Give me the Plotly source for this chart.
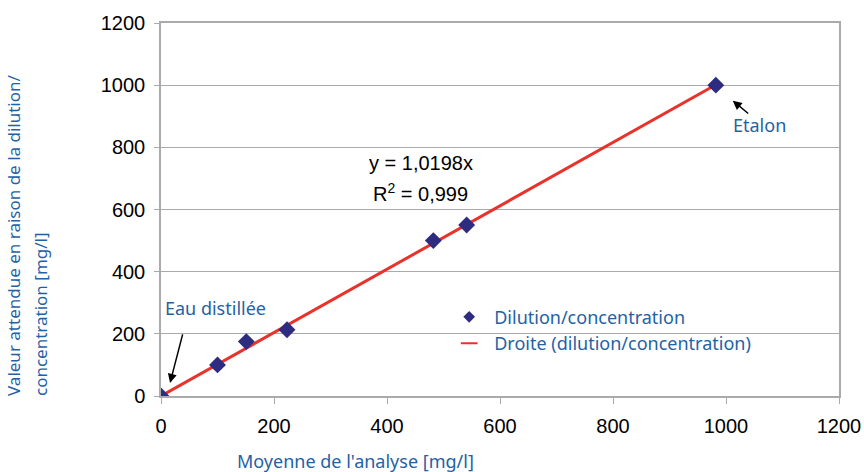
import plotly.graph_objects as go

# Data
x_mean = [0, 100, 151, 223, 482, 541, 982]
y_expected = [0, 100, 175, 213, 500, 550, 1000]
fit_x = [0, 982]
fit_y = [0, 1001.4]
x_ticks = [0, 200, 400, 600, 800, 1000, 1200]
y_ticks = [0, 200, 400, 600, 800, 1000, 1200]

BLUE = "#1f62a5"
NAVY = "#2e2c80"
RED = "#e8322b"
GRID = "#aaaaaa"
TXT_FONT = "Noto Sans"
NUM_FONT = "Liberation Sans, Arial"

fig = go.Figure()

fig.add_trace(go.Scatter(x=fit_x, y=fit_y, mode="lines",
                         line=dict(color=RED, width=3), showlegend=False, hoverinfo="skip"))
fig.add_trace(go.Scatter(x=x_mean, y=y_expected, mode="markers",
                         marker=dict(symbol="diamond", size=13, color=NAVY),
                         showlegend=False))
# legend entries
fig.add_trace(go.Scatter(x=[None], y=[None], mode="markers", name="Dilution/concentration",
                         marker=dict(symbol="diamond", size=9, color=NAVY)))
fig.add_trace(go.Scatter(x=[None], y=[None], mode="markers", name="Droite (dilution/concentration)",
                         marker=dict(symbol="line-ew", size=12, color=RED,
                                     line=dict(color=RED, width=2))))

fig.update_xaxes(range=[0, 1200], tickvals=x_ticks, showgrid=False, automargin=False,
                 showline=True, linecolor=GRID, linewidth=1.5, mirror=True,
                 ticks="outside", ticklen=6, tickcolor=GRID,
                 tickfont=dict(family=NUM_FONT, size=20, color="#000000"),
                 ticklabelstandoff=5, zeroline=False)
fig.update_yaxes(range=[0, 1200], tickvals=y_ticks, showgrid=True, gridcolor=GRID,
                 gridwidth=1, showline=True, linecolor=GRID, linewidth=1.5, mirror=True,
                 ticks="outside", ticklen=5, tickcolor=GRID, automargin=False,
                 tickfont=dict(family=NUM_FONT, size=20, color="#000000"),
                 ticklabelstandoff=5, zeroline=False)

L, R, T, B = 161, 25, 23, 76
PW, PH = 864 - L - R, 472 - T - B


def px_x(v):
    return (v - L) / PW


def px_y(v):
    return (472 - B - v) / PH


ann = []
ann.append(dict(x=px_x(13), y=px_y(398), xref="paper", yref="paper", textangle=-90,
                text="Valeur attendue en raison de la dilution/",
                showarrow=False, font=dict(family=TXT_FONT, size=17, color=BLUE),
                xanchor="center", yanchor="bottom"))
ann.append(dict(x=px_x(40), y=px_y(398), xref="paper", yref="paper", textangle=-90,
                text="concentration [mg/l]",
                showarrow=False, font=dict(family=TXT_FONT, size=17, color=BLUE),
                xanchor="center", yanchor="bottom"))
ann.append(dict(x=px_x(355), y=px_y(461), xref="paper", yref="paper",
                text="Moyenne de l'analyse [mg/l]", showarrow=False,
                font=dict(family=TXT_FONT, size=18, color=BLUE),
                xanchor="center", yanchor="middle"))
ann.append(dict(x=460, y=750, xref="x", yref="y", text="y = 1,0198x", showarrow=False,
                font=dict(family=NUM_FONT, size=20, color="#000000")))
ann.append(dict(x=460, y=654, xref="x", yref="y", text="R<sup>2</sup> = 0,999", showarrow=False,
                font=dict(family=NUM_FONT, size=20, color="#000000")))
ann.append(dict(x=4, y=283, xref="x", yref="y", text="Eau distillée", showarrow=False,
                xanchor="left", font=dict(family=TXT_FONT, size=18, color=BLUE)))
ann.append(dict(x=1060, y=872, xref="x", yref="y", text="Etalon", showarrow=False,
                font=dict(family=TXT_FONT, size=18, color=BLUE)))
ann.append(dict(x=16, y=42, ax=39, ay=203, xref="x", yref="y", axref="x", ayref="y",
                text="", showarrow=True, arrowhead=2, arrowsize=1.2, arrowwidth=1.5,
                arrowcolor="#000000"))
ann.append(dict(x=1012, y=950, ax=1042, ay=905, xref="x", yref="y", axref="x", ayref="y",
                text="", showarrow=True, arrowhead=2, arrowsize=1.2, arrowwidth=1.5,
                arrowcolor="#000000"))

fig.update_layout(
    width=864, height=472,
    margin=dict(l=L, r=R, t=T, b=B, autoexpand=False),
    paper_bgcolor="white", plot_bgcolor="white",
    annotations=ann,
    legend=dict(x=0.4177, y=0.261, xanchor="left", yanchor="top",
                bgcolor="rgba(0,0,0,0)", font=dict(family=TXT_FONT, size=18, color=BLUE),
                itemwidth=40, tracegroupgap=0),
)

fig.write_html("out.html", config={"displayModeBar": False},
               post_script="document.body.style.margin='0';")
